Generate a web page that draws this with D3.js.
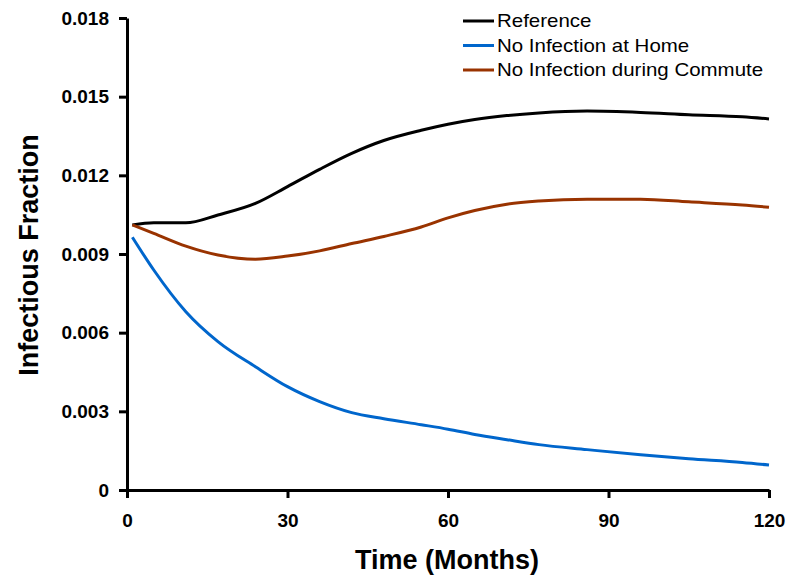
<!DOCTYPE html>
<html>
<head>
<meta charset="utf-8">
<script src="https://cdn.jsdelivr.net/npm/d3@7"></script>
<style>
  html, body { margin: 0; padding: 0; background: #fff; }
  svg { display: block; }
</style>
</head>
<body>
<svg id="chart" width="790" height="584"></svg>
<script>
const months = [1, 5, 11, 17, 24, 30, 36, 42, 48, 55, 60, 65, 71, 77, 86, 96, 105, 115, 120];
const reference = [0.01011, 0.01019, 0.01019, 0.01049, 0.01093, 0.01157, 0.01223, 0.01284, 0.01333, 0.01372, 0.01395, 0.01413, 0.01428, 0.01438, 0.01445, 0.01440, 0.01431, 0.01423, 0.01415];
const noHome = [0.00964, 0.00839, 0.00680, 0.00566, 0.00470, 0.00394, 0.00337, 0.00295, 0.00272, 0.00249, 0.00232, 0.00212, 0.00192, 0.00173, 0.00154, 0.00134, 0.00119, 0.00105, 0.00095];
const noCommute = [0.01011, 0.00979, 0.00930, 0.00896, 0.00880, 0.00892, 0.00912, 0.00940, 0.00967, 0.01003, 0.01038, 0.01066, 0.01090, 0.01102, 0.01109, 0.01109, 0.01099, 0.01087, 0.01078];
const seriesNames = ["Reference", "No Infection at Home", "No Infection during Commute"];
const seriesColors = ["#000000", "#0066cc", "#993300"];
const xTicks = [0, 30, 60, 90, 120];
const yTicks = [0, 0.003, 0.006, 0.009, 0.012, 0.015, 0.018];
const yTickLabels = ["0", "0.003", "0.006", "0.009", "0.012", "0.015", "0.018"];

const svg = d3.select("#chart");
const x = d3.scaleLinear().domain([0, 120]).range([127, 769]);
const y = d3.scaleLinear().domain([0, 0.018]).range([490, 18]);

const font = "Arial, 'Liberation Sans', Helvetica, sans-serif";

// series lines
const allSeries = [reference, noHome, noCommute];
const line = d3.line().x((d, i) => x(months[i])).y(d => y(d)).curve(d3.curveMonotoneX);
allSeries.forEach((s, k) => {
  svg.append("path")
    .attr("d", line(s))
    .attr("fill", "none")
    .attr("stroke", seriesColors[k])
    .attr("stroke-width", 3)
    .attr("stroke-linejoin", "round");
});

// axes
const xAxis = d3.axisBottom(x).tickValues(xTicks).tickSizeOuter(0).tickSizeInner(8).tickPadding(16).tickFormat(d3.format("d"));
const yAxis = d3.axisLeft(y).tickValues(yTicks).tickSizeOuter(0).tickSizeInner(8).tickPadding(10).tickFormat((d, i) => yTickLabels[i]);

const gx = svg.append("g").attr("transform", "translate(0,490)").call(xAxis);
const gy = svg.append("g").attr("transform", "translate(127,0)").call(yAxis);
[gx, gy].forEach(g => {
  g.selectAll("path.domain").attr("stroke", "#000").attr("stroke-width", 3);
  g.selectAll(".tick line").attr("stroke", "#000").attr("stroke-width", 3);
  g.selectAll(".tick text").attr("fill", "#000").style("font-family", font).style("font-weight", "bold").style("font-size", "19px");
});

// axis titles
svg.append("text")
  .attr("x", 447).attr("y", 569)
  .attr("text-anchor", "middle")
  .style("font-family", font).style("font-weight", "bold").style("font-size", "27px")
  .text("Time (Months)");
svg.append("text")
  .attr("transform", "translate(38,255) rotate(-90)")
  .attr("text-anchor", "middle")
  .style("font-family", font).style("font-weight", "bold").style("font-size", "27px")
  .text("Infectious Fraction");

// legend
const legend = svg.append("g");
seriesNames.forEach((name, k) => {
  const ly = 21 + k * 24.5;
  legend.append("line")
    .attr("x1", 463).attr("x2", 494).attr("y1", ly).attr("y2", ly)
    .attr("stroke", seriesColors[k]).attr("stroke-width", 3);
  legend.append("text")
    .attr("transform", `translate(497,${ly}) scale(1.17,1)`)
    .attr("dy", "0.36em")
    .style("font-family", font).style("font-size", "17.5px").attr("fill", "#000")
    .text(name);
});
</script>
</body>
</html>
